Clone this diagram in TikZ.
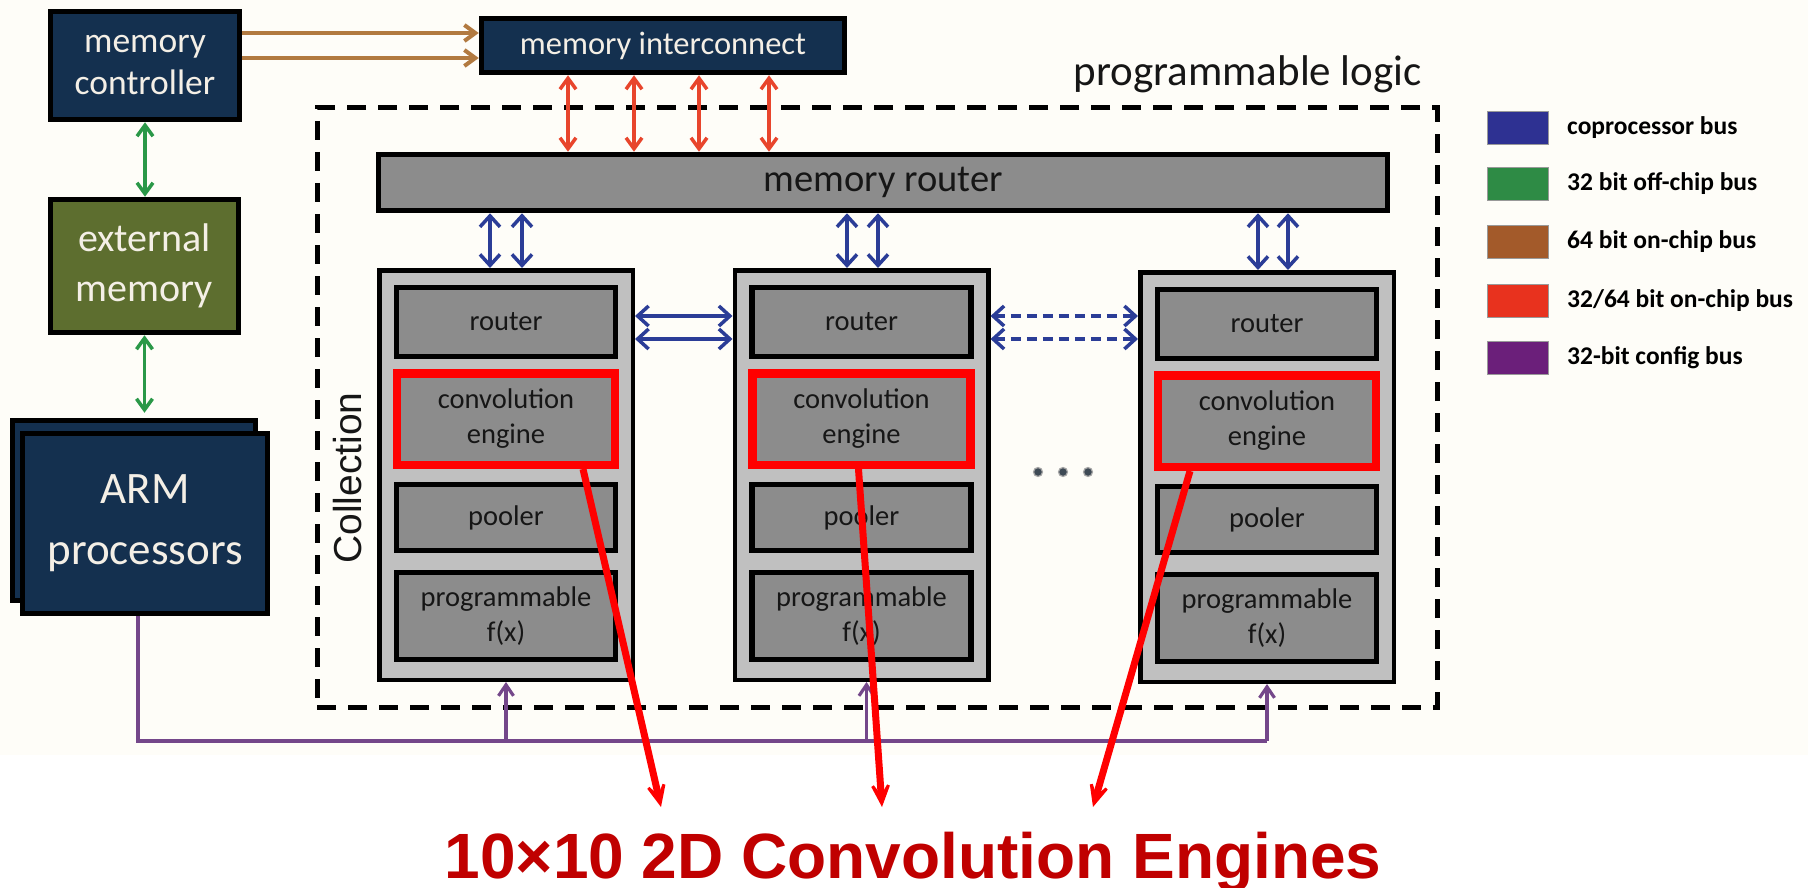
\documentclass[tikz,border=0pt]{standalone}
\usepackage{fontspec}
\setmainfont{Carlito}
\newfontfamily\arialfont{Liberation Sans}
\usetikzlibrary{arrows.meta,calc}

\definecolor{paper}{HTML}{FEFDF8}
\definecolor{navy}{HTML}{14304F}
\definecolor{olive}{HTML}{5D6E2F}
\definecolor{boxgrey}{HTML}{8C8C8C}
\definecolor{colgrey}{HTML}{C0C0C0}
\definecolor{ink}{HTML}{161616}
\definecolor{lighttext}{HTML}{F4EFE6}
\definecolor{hired}{HTML}{FF0000}
\definecolor{titlered}{HTML}{C00000}
\definecolor{busblue}{HTML}{2B3D97}
\definecolor{busgreen}{HTML}{2A9848}
\definecolor{busbrown}{HTML}{B27A40}
\definecolor{busred}{HTML}{E8452C}
\definecolor{buspurple}{HTML}{74478A}
\definecolor{keyblue}{HTML}{2E3192}
\definecolor{keygreen}{HTML}{2E8B45}
\definecolor{keybrown}{HTML}{A35A2A}
\definecolor{keyred}{HTML}{E8321E}
\definecolor{keypurple}{HTML}{6B1F7A}
\definecolor{dotgrey}{HTML}{3E4A55}

\tikzset{
  block/.style={draw=black, line width=5.5pt, align=center, inner sep=0pt},
  navyblock/.style={block, fill=navy, text=lighttext},
  greyblock/.style={block, fill=boxgrey, text=ink, minimum width=219pt,
    font=\fontsize{28.5}{35}\selectfont},
  convblock/.style={greyblock, draw=hired, line width=8.5pt, minimum width=218pt},
  colblock/.style={draw=black, line width=4.5pt, fill=colgrey,
    minimum width=253.5pt, minimum height=409.5pt, inner sep=0pt},
  plbox/.style={draw=black, line width=5pt, dash pattern=on 19pt off 12pt,
    inner sep=0pt},
  cbus/.style={draw=busblue, line width=3.5pt,
    {Straight Barb[length=11pt,width=20pt]}-{Straight Barb[length=11pt,width=20pt]}},
  cbusdash/.style={cbus, dash pattern=on 10pt off 6pt},
  gbus/.style={draw=busgreen, line width=3.5pt,
    {Straight Barb[length=11pt,width=16pt]}-{Straight Barb[length=11pt,width=16pt]}},
  rbus/.style={draw=busred, line width=3.5pt,
    {Straight Barb[length=11pt,width=16pt]}-{Straight Barb[length=11pt,width=16pt]}},
  obus/.style={draw=busbrown, line width=4pt, -{Straight Barb[length=11pt,width=16pt]}},
  pbus/.style={draw=buspurple, line width=3.2pt},
  pbusarrow/.style={pbus, -{Straight Barb[length=11pt,width=15pt]}},
  callout/.style={draw=hired, line width=7pt,
    -{Stealth[length=38pt,width=34pt,inset=26pt]}},
  keysq/.style={draw=black!40, line width=0.8pt, minimum width=61pt,
    minimum height=33pt, inner sep=0pt},
  keytxt/.style={anchor=west, font=\fontsize{25.5}{30}\selectfont\bfseries,
    text=black, inner sep=0pt},
  dot/.style={circle, fill=dotgrey, draw=gray!70, line width=1.2pt,
    minimum size=9pt, inner sep=0pt},
}

\begin{document}
\begin{tikzpicture}[x=1pt, y=-1pt]
  \useasboundingbox (0,0) rectangle (1808,888);
  \fill[white] (0,0) rectangle (1808,888);
  \fill[paper] (0,0) rectangle (1808,755);

  % host side
  \node[navyblock, minimum width=189pt, minimum height=108pt,
    font=\fontsize{35.5}{42}\selectfont] (mc) at (145,65.5) {memory\\controller};
  \node[navyblock, minimum width=363pt, minimum height=54pt,
    font=\fontsize{32.5}{38}\selectfont] (mi) at (663,45.5) {memory interconnect};
  \node[block, fill=olive, text=lighttext, minimum width=188pt, minimum height=133pt,
    font=\fontsize{40}{50}\selectfont] (em) at (144.5,266) {external\\memory};
  \node[navyblock, minimum width=243pt, minimum height=180pt] (armb) at (134,510.5) {};
  \node[navyblock, minimum width=245pt, minimum height=180pt,
    font=\fontsize{45}{61}\selectfont] (armf) at (145,523.5) {ARM\\processors};

  % programmable logic region
  \node[plbox, minimum width=1120pt, minimum height=599pt] (pl) at (877,407.5) {};
  \node[anchor=base east, inner sep=0pt, text=ink,
    font=\fontsize{43}{50}\selectfont] (pllabel) at (1422,86) {programmable logic};
  \node[block, fill=boxgrey, text=ink, minimum width=1009pt, minimum height=56pt,
    font=\fontsize{38.5}{45}\selectfont] (mr) at (883,182.5) {memory router};

  \node[rotate=90, inner sep=0pt, text=ink,
    font=\arialfont\fontsize{39}{45}\selectfont] (coll) at (348,478) {Collection};

  % the three collections
  \foreach \i/\x/\y in {1/506/475, 2/861.5/475, 3/1267/477} {
    \node[colblock] (c\i) at (\x,\y) {};
    \node[greyblock, minimum height=69pt] (c\i r) at (\x,\y-153) {router};
    \node[convblock, minimum height=91.5pt] (c\i ce) at (\x,\y-56)
      {convolution\\engine};
    \node[greyblock, minimum height=66pt] (c\i p) at (\x,\y+42.5) {pooler};
    \node[greyblock, minimum height=87pt] (c\i f) at (\x,\y+141)
      {programmable\\f(x)};
  }

  \node[dot] (d1) at (1038,472) {};
  \node[dot] (d2) at (1063,472) {};
  \node[dot] (d3) at (1088,472) {};

  % 64 bit on-chip bus
  \coordinate (o1) at (0,33);
  \coordinate (o2) at (0,58);
  \draw[obus] (mc.east |- o1) -- (mi.west |- o1);
  \draw[obus] (mc.east |- o2) -- (mi.west |- o2);

  % 32/64 bit on-chip bus
  \foreach \x in {568,634,699,769} {
    \coordinate (ri) at (\x,0);
    \draw[rbus] (ri |- mi.south) -- (ri |- mr.north);
  }

  % 32 bit off-chip bus
  \draw[gbus] (mc.south) -- (mc.south |- em.north);
  \draw[gbus, shorten >=5pt] (em.south) -- (em.south |- armb.north);

  % coprocessor bus
  \foreach \i/\a/\b in {1/-16/16, 2/-14.5/16.5, 3/-9/21} {
    \coordinate (ua) at ([xshift=\a pt]c\i.north);
    \coordinate (ub) at ([xshift=\b pt]c\i.north);
    \draw[cbus] (ua |- mr.south) -- (ua);
    \draw[cbus] (ub |- mr.south) -- (ub);
  }
  \coordinate (h1) at (0,316);
  \coordinate (h2) at (0,339);
  \draw[cbus] (c1.east |- h1) -- (c2.west |- h1);
  \draw[cbus] (c1.east |- h2) -- (c2.west |- h2);
  \draw[cbusdash] (c2.east |- h1) -- (c3.west |- h1);
  \draw[cbusdash] (c2.east |- h2) -- (c3.west |- h2);

  % 32-bit config bus
  \coordinate (cfg) at (1267,741);
  \draw[pbus] ([xshift=-7pt]armf.south) |- (cfg);
  \draw[pbusarrow] (c1.south |- cfg) -- (c1.south);
  \draw[pbusarrow] ([xshift=5pt]c2.south |- cfg) -- ([xshift=5pt]c2.south);
  \draw[pbusarrow] (c3.south |- cfg) -- (c3.south);

  % callouts to the convolution engines
  \coordinate (t1) at (661,807);
  \coordinate (t2) at (882,807);
  \coordinate (t3) at (1093,807);
  \draw[callout] ([xshift=77pt]c1ce.south) -- (t1);
  \draw[callout] ([xshift=-3pt]c2ce.south) -- (t2);
  \draw[callout] ([xshift=-77pt]c3ce.south) -- (t3);
  \node[anchor=base, inner sep=0pt, text=titlered,
    font=\arialfont\bfseries\fontsize{64}{70}\selectfont] (title) at (913,878)
    {10×10 2D Convolution Engines};

  % legend
  \foreach \n/\c/\y/\t in {1/keyblue/127.5/{coprocessor bus},
                          2/keygreen/183.5/{32 bit off-chip bus},
                          3/keybrown/241.5/{64 bit on-chip bus},
                          4/keyred/300.5/{32/64 bit on-chip bus},
                          5/keypurple/358/{32-bit config bus}} {
    \node[keysq, fill=\c] (k\n) at (1517.5,\y) {};
    \node[keytxt] (kt\n) at (1567,\y) {\t};
  }
\end{tikzpicture}
\end{document}
